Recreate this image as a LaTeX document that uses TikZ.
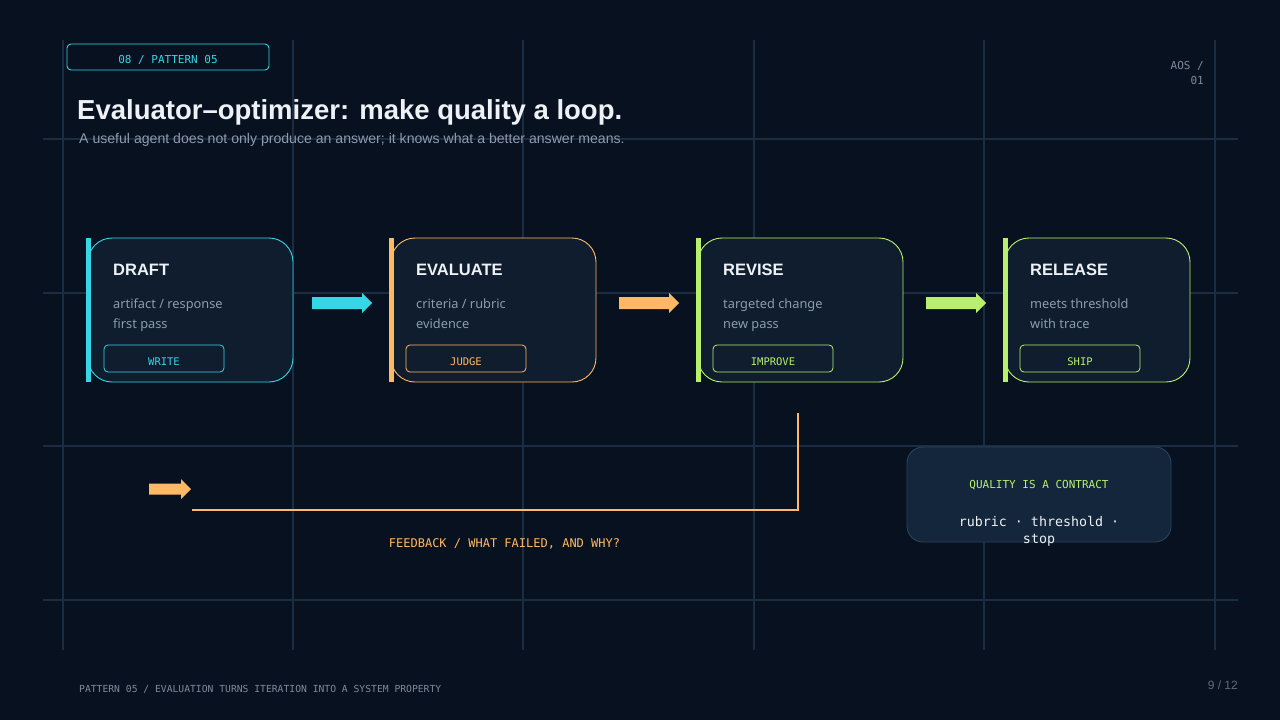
\documentclass[tikz,border=0pt]{standalone}
\usepackage{fontspec}
\setmainfont{Liberation Sans}
\newfontfamily\bodyfont{Noto Sans}
\newfontfamily\monofont{DejaVu Sans Mono}
\definecolor{bg}{HTML}{08111F}
\definecolor{gridc}{HTML}{1B2D42}
\definecolor{cardfill}{HTML}{0F1D2F}
\definecolor{cy}{HTML}{36D6E7}
\definecolor{orng}{HTML}{FFB864}
\definecolor{lime}{HTML}{B8F06E}
\definecolor{titlec}{HTML}{EEF2F7}
\definecolor{subc}{HTML}{8D9BB0}
\definecolor{footc}{HTML}{7D8A9C}
\definecolor{pagec}{HTML}{5F6B7A}
\definecolor{qfill}{HTML}{13263B}
\definecolor{qdraw}{HTML}{2A425C}
\tikzset{
  gridline/.style={draw=gridc, line width=1.1pt},
  card/.style={rounded corners=24pt, fill=cardfill, line width=0.9pt, minimum width=205pt, minimum height=144pt, inner sep=0pt},
  cardtitle/.style={anchor=base west, text=titlec, font=\fontsize{16.5}{18}\selectfont\bfseries, inner sep=0pt},
  cardbody/.style={anchor=base west, text=subc, font=\bodyfont\fontsize{12.8}{20}\selectfont, inner sep=0pt, align=left},
  btn/.style={rounded corners=4pt, line width=0.8pt, minimum width=120pt, minimum height=27pt, inner sep=0pt, text height=14.5pt, text depth=0pt, font=\monofont\fontsize{10.5}{12}\selectfont},
  mono/.style={font=\monofont\fontsize{11}{13}\selectfont, inner sep=0pt},
}
\newcommand\blockarr[2]{\fill[#1] (#2) ++(0,-6) -- ++(50,0) -- ++(0,-4) -- ++(10,10) -- ++(-10,10) -- ++(0,-4) -- ++(-50,0) -- cycle;}
\begin{document}
\begin{tikzpicture}[x=1pt,y=-1pt]
\fill[bg] (0,0) rectangle (1280,720);
\useasboundingbox (0,0) rectangle (1280,720);
% grid
\foreach \gx in {63,293,523,754,984}{\draw[gridline] (\gx,40) -- (\gx,650);}
\draw[gridline, line width=1.8pt] (1215,40) -- (1215,650);
\foreach \gy in {139,293,600}{\draw[gridline] (43,\gy) -- (1238,\gy);}
\draw[gridline, line width=2pt] (43,446) -- (1238,446);
% header
\node[draw=cy, rounded corners=4pt, line width=0.9pt, minimum width=202pt, minimum height=26pt, inner sep=0pt] (tag) at (168,57) {};
\node[mono, text=cy] (tagtxt) at (168,60) {08 / PATTERN 05};
\node[anchor=base west, inner sep=0pt, text=titlec, font=\fontsize{27.5}{30}\selectfont\bfseries] (title) at (77,119) {Evaluator–optimizer: make quality a loop.};
\node[anchor=base west, inner sep=0pt, text=subc, font=\fontsize{14.1}{16}\selectfont] (subtitle) at (79,143) {A useful agent does not only produce an answer; it knows what a better answer means.};
\node[mono, text=footc, anchor=base east, align=right] (aos1) at (1204,69) {AOS /};
\node[mono, text=footc, anchor=base east, align=right] (aos2) at (1204,84) {01};
% cards
\node[card, draw=cy] (draft) at (190.5,310) {};
\fill[cy] (86,238) rectangle (91,382);
\node[cardtitle] (t1) at (113,275) {DRAFT};
\node[cardbody] (b1) at (113,308) {artifact / response};
\node[cardbody] (b1b) at (113,328) {first pass};
\node[btn, draw=cy, text=cy] (w1) at (164,358.5) {WRITE};

\node[card, draw=orng] (evaluate) at (493.5,310) {};
\fill[orng] (389,238) rectangle (394,382);
\node[cardtitle] (t2) at (416,275) {EVALUATE};
\node[cardbody] (b2) at (416,308) {criteria / rubric};
\node[cardbody] (b2b) at (416,328) {evidence};
\node[btn, draw=orng, text=orng] (w2) at (466,358.5) {JUDGE};

\node[card, draw=lime] (revise) at (800.5,310) {};
\fill[lime] (696,238) rectangle (701,382);
\node[cardtitle] (t3) at (723,275) {REVISE};
\node[cardbody] (b3) at (723,308) {targeted change};
\node[cardbody] (b3b) at (723,328) {new pass};
\node[btn, draw=lime, text=lime] (w3) at (773,358.5) {IMPROVE};

\node[card, draw=lime, minimum width=185pt] (release) at (1097.5,310) {};
\fill[lime] (1003,238) rectangle (1008,382);
\node[cardtitle] (t4) at (1030,275) {RELEASE};
\node[cardbody] (b4) at (1030,308) {meets threshold};
\node[cardbody] (b4b) at (1030,328) {with trace};
\node[btn, draw=lime, text=lime] (w4) at (1080,358.5) {SHIP};
% arrows between cards
\coordinate (a1) at (312,303);
\coordinate (a2) at (619,303);
\coordinate (a3) at (926,303);
\blockarr{cy}{a1}
\blockarr{orng}{a2}
\blockarr{lime}{a3}
% feedback loop
\coordinate (fbstart) at (798,413);
\coordinate (fbend) at (192,510);
\draw[orng, line width=2pt] (fbstart) |- (fbend);
\coordinate (fa) at (149,489);
\fill[orng] (fa) ++(0,-5.5) -- ++(32,0) -- ++(0,-4.5) -- ++(10,10) -- ++(-10,10) -- ++(0,-4.5) -- ++(-32,0) -- cycle;
\node[font=\monofont\fontsize{12}{14}\selectfont, text=orng, inner sep=0pt] (fblabel) at (504.5,544) {FEEDBACK / WHAT FAILED, AND WHY?};
% quality box
\node[rounded corners=16pt, fill=qfill, draw=qdraw, line width=0.9pt, minimum width=264pt, minimum height=95pt, inner sep=0pt] (quality) at (1039,494.5) {};
\node[mono, text=lime] (qt) at (1039,485.5) {QUALITY IS A CONTRACT};
\node[font=\monofont\fontsize{13.3}{17}\selectfont, text=titlec, inner sep=0pt, align=center] (qb) at (1039,531) {rubric · threshold ·\\stop};
% footer
\node[anchor=base west, inner sep=0pt, text=footc, font=\monofont\fontsize{9.7}{12}\selectfont] (foot) at (79,692) {PATTERN 05 / EVALUATION TURNS ITERATION INTO A SYSTEM PROPERTY};
\node[anchor=base east, inner sep=0pt, text=pagec, font=\fontsize{12}{14}\selectfont] (page) at (1238,689.5) {9 / 12};
\end{tikzpicture}
\end{document}
